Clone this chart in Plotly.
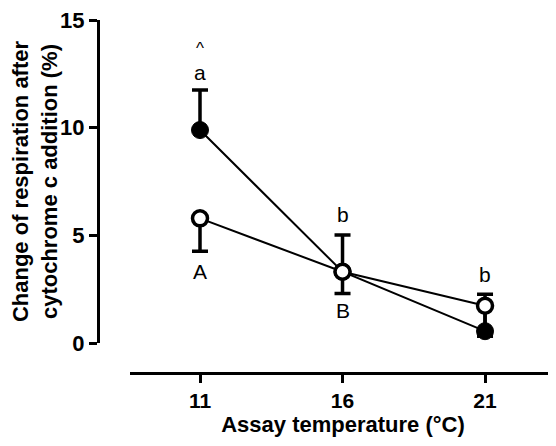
import plotly.graph_objects as go

temps = [11, 16, 21]
filled_mean = [9.89, 3.31, 0.55]
filled_err_up = [1.86, 1.71, 1.72]
open_mean = [5.79, 3.31, 1.73]
open_err_down = [1.53, 1.01, 1.42]

x_ticks = [11, 16, 21]
y_ticks = [0, 5, 10, 15]

# significance letters: (text, x, y)
letters_text = ["^", "a", "A", "b", "B", "b", "B"]
letters_x = [11, 11, 11, 16, 16, 21, 21]
letters_y = [13.67, 12.57, 3.34, 5.96, 1.50, 3.20, -0.52]

FONT = "Liberation Sans, Arial, sans-serif"

fig = go.Figure()
fig.add_trace(go.Scatter(
    x=temps, y=filled_mean, mode="lines+markers",
    line=dict(color="black", width=2),
    marker=dict(symbol="circle", size=17, color="black", line=dict(color="black", width=1)),
    error_y=dict(type="data", symmetric=False, array=filled_err_up,
                 arrayminus=[0, 0, 0], color="black", thickness=3.5, width=8),
    cliponaxis=False, showlegend=False,
))
fig.add_trace(go.Scatter(
    x=temps, y=open_mean, mode="lines+markers",
    line=dict(color="black", width=2),
    marker=dict(symbol="circle", size=15, color="white", line=dict(color="black", width=3.5)),
    error_y=dict(type="data", symmetric=False, array=[0, 0, 0],
                 arrayminus=open_err_down, color="black", thickness=3.5, width=8),
    cliponaxis=False, showlegend=False,
))

for t, xv, yv in zip(letters_text, letters_x, letters_y):
    fig.add_annotation(x=xv, y=yv, xref="x", yref="y", text=t, showarrow=False,
                       font=dict(family=FONT, size=21 if t != "^" else 17, color="black"),
                       xanchor="center", yanchor="middle")

# page body has an 8px margin; compensate so the picture lines up with the window
OFF = 8
W, H = 556 - OFF, 446 - OFF
L, R, T, B = 98 - OFF, 0, 16 - OFF, 73
pw = W - L - R
ph = H - T - B
x_left_px = 130 - OFF
zero_px = 342.7 - OFF

fig.update_layout(
    width=W, height=H,
    margin=dict(l=L, r=R, t=T, b=B, pad=0),
    plot_bgcolor="white", paper_bgcolor="white",
    font=dict(family=FONT, color="black"),
    xaxis=dict(
        domain=[(x_left_px - L) / pw, 1], range=[8.544, 23.49],
        anchor="free", position=0,
        showline=True, linecolor="black", linewidth=3,
        ticks="outside", ticklen=8, tickwidth=3, tickcolor="black",
        tickvals=x_ticks, ticktext=[f"<b>{v}</b>" for v in x_ticks],
        tickfont=dict(size=21, family=FONT),
        ticklabeloverflow="allow",
        showgrid=False, zeroline=False,
        title=dict(text="<b>Assay temperature (°C)</b>", font=dict(size=22, family=FONT), standoff=5),
    ),
    yaxis=dict(
        domain=[(T + ph - zero_px) / ph, 1], range=[0, 15],
        anchor="free", position=0,
        showline=True, linecolor="black", linewidth=3,
        ticks="outside", ticklen=8, tickwidth=3, tickcolor="black",
        tickvals=y_ticks, ticktext=[f"<b>{v}</b>" for v in y_ticks],
        tickfont=dict(size=22, family=FONT),
        ticklabeloverflow="allow",
        showgrid=False, zeroline=False,
        title=dict(text="<b>Change of respiration after<br>cytochrome c addition (%)</b>",
                   font=dict(size=22, family=FONT), standoff=1),
    ),
)

fig.write_html("out.html")
